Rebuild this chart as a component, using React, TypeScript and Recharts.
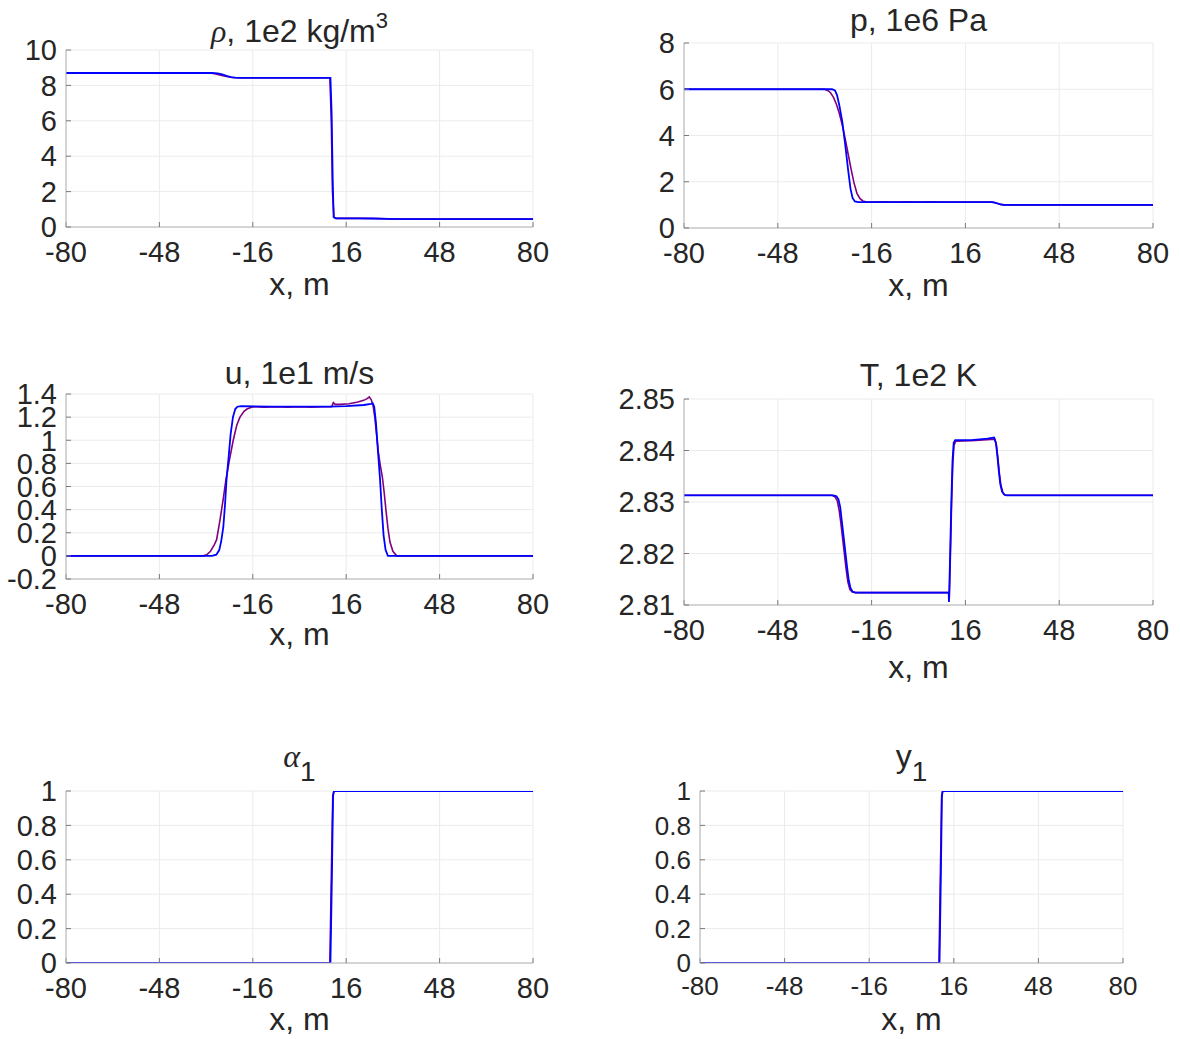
import React from "react"
import { CartesianGrid, Line, LineChart, XAxis, YAxis } from "recharts"

type Pt = [number, number]

// shared x axis
const xTicks = [-80, -48, -16, 16, 48, 80]

// y tick values per panel
const rhoTicks = [0, 2, 4, 6, 8, 10]
const pTicks = [0, 2, 4, 6, 8]
const uTicks = [-0.2, 0, 0.2, 0.4, 0.6, 0.8, 1, 1.2, 1.4]
const tTicks = [2.81, 2.82, 2.83, 2.84, 2.85]
const unitTicks = [0, 0.2, 0.4, 0.6, 0.8, 1]

// density, 1e2 kg/m3
const rhoPurple: Pt[] = [
  [-80, 8.7], [-31, 8.7], [-29, 8.66], [-27, 8.58], [-25, 8.5], [-23, 8.45], [-21, 8.43],
  [10.4, 8.43], [10.9, 6], [11.3, 2], [11.8, 0.55], [12.5, 0.49], [20, 0.49], [26, 0.48],
  [31, 0.46], [36, 0.45], [80, 0.45]
]
const rhoBlue: Pt[] = [
  [-80, 8.7], [-30, 8.7], [-28, 8.68], [-26.5, 8.62], [-25, 8.54], [-23.5, 8.47], [-22, 8.44],
  [-20, 8.43], [10.6, 8.43], [11.0, 6.5], [11.4, 2.5], [11.7, 0.55], [12.5, 0.49], [20, 0.49],
  [25, 0.48], [30, 0.46], [36, 0.45], [80, 0.45]
]

// pressure, 1e6 Pa
const pPurple: Pt[] = [
  [-80, 6], [-32, 6], [-31, 5.95], [-30, 5.85], [-29, 5.65], [-28, 5.35], [-27, 4.95], [-26, 4.45],
  [-25, 3.85], [-24, 3.2], [-23, 2.55], [-22, 1.95], [-21, 1.5], [-20, 1.28], [-19, 1.17],
  [-18, 1.13], [-16, 1.12], [-12, 1.13], [-8, 1.12], [-4, 1.13], [0, 1.12], [4, 1.13], [8, 1.12],
  [10, 1.12], [25, 1.12], [26, 1.1], [27, 1.06], [28, 1.02], [29.2, 1.0], [80, 1.0]
]
const pBlue: Pt[] = [
  [-80, 6], [-29.5, 6], [-28.5, 5.95], [-27.8, 5.75], [-27, 5.3], [-26, 4.6], [-25, 3.6],
  [-24, 2.5], [-23.2, 1.7], [-22.5, 1.3], [-21.7, 1.15], [-20.5, 1.12], [25, 1.12], [26, 1.1],
  [27, 1.06], [28, 1.02], [29, 1.0], [80, 1.0]
]

// velocity, 1e1 m/s
const uPurple: Pt[] = [
  [-80, 0], [-33, 0], [-31.8, 0.01], [-30.5, 0.04], [-29.3, 0.09], [-28.4, 0.14], [-27.3, 0.3],
  [-26.2, 0.48], [-25.2, 0.66], [-24, 0.83], [-22.7, 1.0], [-21.5, 1.13], [-20.4, 1.2],
  [-19, 1.25], [-18, 1.27], [-16, 1.29], [-12, 1.285], [-8, 1.29], [-4, 1.285], [0, 1.29],
  [4, 1.285], [8, 1.29], [11, 1.29], [11.6, 1.325], [12.2, 1.31], [14, 1.31], [17, 1.315],
  [20, 1.33], [22, 1.345], [23.2, 1.36], [23.9, 1.375], [24.6, 1.35], [25.2, 1.3], [25.8, 1.2],
  [26.4, 1.05], [27, 0.9], [27.7, 0.78], [28.4, 0.68], [29, 0.55], [29.6, 0.4], [30.3, 0.24],
  [31, 0.12], [32, 0.04], [33.3, 0], [80, 0]
]
const uBlue: Pt[] = [
  [-80, 0], [-30, 0], [-28.5, 0.01], [-27.5, 0.05], [-26.8, 0.13], [-26.1, 0.25], [-25.5, 0.45],
  [-25, 0.66], [-24.3, 0.85], [-23.6, 1.05], [-22.8, 1.2], [-22, 1.27], [-21.3, 1.29],
  [-20, 1.295], [-10, 1.29], [0, 1.29], [10, 1.29], [16, 1.295], [22, 1.305], [24.5, 1.315],
  [25.1, 1.32], [25.6, 1.29], [26.2, 1.15], [26.9, 0.9], [27.6, 0.66], [28.2, 0.4],
  [28.8, 0.18], [29.5, 0.05], [30.3, 0], [80, 0]
]

// temperature, 1e2 K
const tPurple: Pt[] = [
  [-80, 2.8313], [-29.5, 2.8313], [-28.5, 2.831], [-27.7, 2.8302], [-27.1, 2.8285], [-26.5, 2.826],
  [-25.9, 2.823], [-25.3, 2.82], [-24.7, 2.817], [-24.1, 2.8145], [-23.4, 2.813], [-22.6, 2.8125],
  [-21.5, 2.8124], [10.3, 2.8124], [10.5, 2.8112], [10.9, 2.82], [11.3, 2.83], [11.7, 2.8375],
  [12.1, 2.841], [12.7, 2.8418], [18, 2.8419], [23.5, 2.8421], [26, 2.8422], [26.6, 2.841],
  [27.1, 2.8385], [27.6, 2.8355], [28.1, 2.8333], [28.8, 2.8318], [29.6, 2.8313], [80, 2.8313]
]
const tBlue: Pt[] = [
  [-80, 2.8313], [-29, 2.8313], [-28, 2.8311], [-27.3, 2.8305], [-26.7, 2.829], [-26.2, 2.8265],
  [-25.6, 2.8235], [-25, 2.8205], [-24.4, 2.8175], [-23.8, 2.8148], [-23.2, 2.8133],
  [-22.5, 2.8126], [-21.5, 2.8124], [10.3, 2.8124], [10.4, 2.8106], [10.8, 2.82], [11.2, 2.83],
  [11.6, 2.838], [12, 2.8415], [12.5, 2.842], [18, 2.842], [23.5, 2.8423], [25.8, 2.8425],
  [26.4, 2.8415], [26.9, 2.839], [27.4, 2.836], [27.9, 2.8335], [28.5, 2.832], [29.3, 2.8314],
  [30, 2.8313], [80, 2.8313]
]

// volume fraction alpha_1
const aPurple: Pt[] = [[-80, 0], [10.4, 0], [10.9, 0.5], [11.4, 0.97], [11.8, 1], [80, 1]]
const aBlue: Pt[] = [[-80, 0], [10.6, 0], [11.1, 0.5], [11.5, 0.97], [11.8, 1], [80, 1]]

// mass fraction y_1
const yPurple: Pt[] = [[-80, 0], [10.4, 0], [10.9, 0.5], [11.4, 0.97], [11.8, 1], [80, 1]]
const yBlue: Pt[] = [[-80, 0], [10.6, 0], [11.1, 0.5], [11.5, 0.97], [11.8, 1], [80, 1]]

const TEXT = "#262626"
const FONT = "'Liberation Sans', Arial, Helvetica, sans-serif"
const GREEK = "'Liberation Serif', 'DejaVu Serif', serif"

const toRows = (pts: Pt[]) => pts.map(([x, y]) => ({ x, y }))
const fmt1 = (v: number) => String(Number(v.toFixed(1)))

interface Box { l: number; t: number; r: number; b: number }

interface PanelProps {
  box: Box
  yDomain: [number, number]
  yTicks: number[]
  purple: Pt[]
  blue: Pt[]
  fmt?: (v: number) => string
  tickFont?: number
  labelGap?: number
}

function Panel({ box, yDomain, yTicks, purple, blue, fmt = (v) => String(v), tickFont = 29, labelGap = 60 }: PanelProps) {
  const YW = 74
  const MT = 22
  const MR = 34
  const XH = 84
  const w = box.r - box.l + YW + MR
  const h = box.b - box.t + MT + XH
  const axisLine = { stroke: "#b4b4b4", strokeWidth: 1 }
  const tickLine = { stroke: "#7a7a7a", strokeWidth: 1 }
  return (
    <div style={{ position: "absolute", left: box.l - YW, top: box.t - MT }}>
      <LineChart width={w} height={h} margin={{ top: MT, right: MR, bottom: 0, left: 0 }}>
        <CartesianGrid stroke="#ebebeb" />
        <XAxis
          dataKey="x"
          type="number"
          domain={[-80, 80]}
          ticks={xTicks}
          interval={0}
          height={XH}
          axisLine={axisLine}
          tickLine={tickLine}
          tickSize={-5}
          tickMargin={19}
          tick={{ fontSize: tickFont, fill: TEXT }}
          label={{ value: "x, m", position: "insideBottom", offset: XH - labelGap - 8, fontSize: 32, fill: TEXT }}
        />
        <XAxis
          xAxisId="top"
          orientation="top"
          type="number"
          domain={[-80, 80]}
          ticks={xTicks}
          interval={0}
          height={0}
          allowDataOverflow
          axisLine={axisLine}
          tickLine={tickLine}
          tickSize={-5}
          tick={false}
        />
        <YAxis
          type="number"
          domain={yDomain}
          ticks={yTicks}
          interval={0}
          width={YW}
          allowDataOverflow
          axisLine={axisLine}
          tickLine={tickLine}
          tickSize={-5}
          tickMargin={14}
          tickFormatter={fmt}
          tick={{ fontSize: tickFont, fill: TEXT }}
        />
        <YAxis
          yAxisId="right"
          orientation="right"
          type="number"
          domain={yDomain}
          ticks={yTicks}
          interval={0}
          width={0}
          allowDataOverflow
          axisLine={axisLine}
          tickLine={tickLine}
          tickSize={-5}
          tick={false}
        />
        <Line data={toRows(purple)} dataKey="y" type="linear" stroke="#800080" strokeWidth={1.6} dot={false} isAnimationActive={false} />
        <Line data={toRows(blue)} dataKey="y" type="linear" stroke="#0000ff" strokeWidth={1.8} dot={false} isAnimationActive={false} />
      </LineChart>
    </div>
  )
}

function Title({ cx, cy, children }: { cx: number; cy: number; children: React.ReactNode }) {
  return (
    <div
      style={{
        position: "absolute",
        left: cx - 250,
        top: cy - 17,
        width: 500,
        height: 34,
        lineHeight: "34px",
        textAlign: "center",
        fontSize: 32,
        color: TEXT,
        whiteSpace: "nowrap"
      }}
    >
      {children}
    </div>
  )
}

const sup = { fontSize: 22, position: "relative" as const, top: -14 }
const sub = { fontSize: 28, position: "relative" as const, top: 14 }
const greek = { fontFamily: GREEK, fontStyle: "italic" as const }

export default function App() {
  return (
    <div style={{ position: "absolute", left: 0, top: 0, width: 1180, height: 1039, background: "#fff", fontFamily: FONT }}>
      <Title cx={299.5} cy={31}>
        <span style={greek}>ρ</span>, 1e2 kg/m<span style={sup}>3</span>
      </Title>
      <Panel box={{ l: 66, t: 50, r: 533, b: 227 }} yDomain={[0, 10]} yTicks={rhoTicks} purple={rhoPurple} blue={rhoBlue} />

      <Title cx={918.5} cy={20}>p, 1e6 Pa</Title>
      <Panel box={{ l: 684, t: 43, r: 1153, b: 228 }} yDomain={[0, 8]} yTicks={pTicks} purple={pPurple} blue={pBlue} />

      <Title cx={299.5} cy={373}>u, 1e1 m/s</Title>
      <Panel box={{ l: 66, t: 394, r: 533, b: 579 }} yDomain={[-0.2, 1.4]} yTicks={uTicks} purple={uPurple} blue={uBlue} fmt={fmt1} labelGap={58} />

      <Title cx={918.5} cy={375}>T, 1e2 K</Title>
      <Panel box={{ l: 684, t: 399, r: 1153, b: 605 }} yDomain={[2.81, 2.85]} yTicks={tTicks} purple={tPurple} blue={tBlue} fmt={(v) => v.toFixed(2)} labelGap={65} />

      <Title cx={299.5} cy={756}>
        <span style={greek}>α</span><span style={sub}>1</span>
      </Title>
      <Panel box={{ l: 66, t: 791, r: 533, b: 963 }} yDomain={[0, 1]} yTicks={unitTicks} purple={aPurple} blue={aBlue} fmt={fmt1} labelGap={59} />

      <Title cx={911.5} cy={756}>
        y<span style={sub}>1</span>
      </Title>
      <Panel box={{ l: 700, t: 791, r: 1123, b: 963 }} yDomain={[0, 1]} yTicks={unitTicks} purple={yPurple} blue={yBlue} fmt={fmt1} tickFont={26} labelGap={59} />
    </div>
  )
}
